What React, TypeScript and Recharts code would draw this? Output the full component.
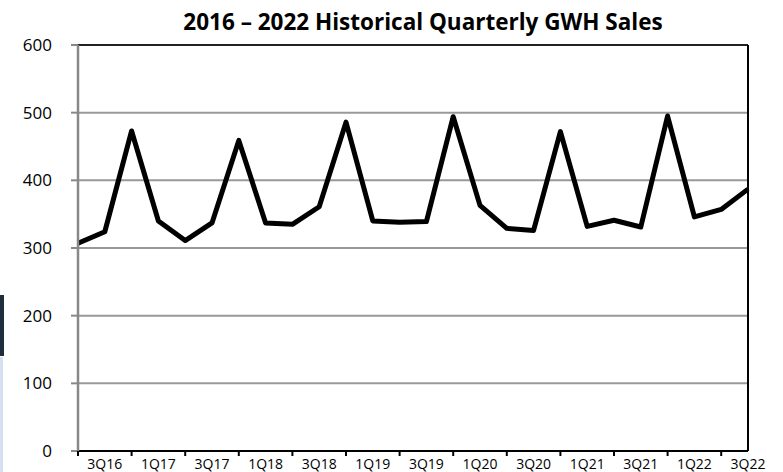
import React from 'react';
import { LineChart, Line, XAxis, YAxis, CartesianGrid, ReferenceLine } from 'recharts';

const quarters = ['2Q16','3Q16','4Q16','1Q17','2Q17','3Q17','4Q17','1Q18','2Q18','3Q18','4Q18','1Q19','2Q19','3Q19','4Q19','1Q20','2Q20','3Q20','4Q20','1Q21','2Q21','3Q21','4Q21','1Q22','2Q22','3Q22'];
const sales = [307,324,473,340,311,337,459,337,335,361,486,340,338,339,494,363,329,326,472,332,341,331,495,346,357,387];
const yTicks = [0, 100, 200, 300, 400, 500, 600];
const title = '2016 \u2013 2022 Historical Quarterly GWH Sales';

const data = quarters.map((q, i) => ({ q, v: sales[i] }));

const XTick = (props: any) => {
  const { x, y, index, payload } = props;
  if (index % 2 === 0) {
    return <line x1={x} y1={y} x2={x} y2={y + 5} stroke="#000" strokeWidth={2} />;
  }
  return (
    <text x={x} y={y + 18} textAnchor="middle" fontSize={14} fontFamily="Open Sans" fill="#000">
      {payload.value}
    </text>
  );
};

export default function App() {
  return (
    <div style={{ position: 'absolute', left: 0, top: 0, width: 783, height: 472, background: '#fff' }}>
      <div style={{ position: 'absolute', left: 0, top: 295, width: 4, height: 61, background: '#1f2d3d' }} />
      <div style={{ position: 'absolute', left: 0, top: 357, width: 3, height: 115, background: '#d6e0ef' }} />
      <div
        style={{
          position: 'absolute',
          left: 423,
          top: 9,
          transform: 'translateX(-50%)',
          whiteSpace: 'nowrap',
          fontFamily: 'Open Sans',
          fontWeight: 700,
          fontSize: 22.5,
          lineHeight: '26px',
          color: '#000',
        }}
      >
        {title}
      </div>
      <LineChart width={783} height={472} data={data} margin={{ top: 45, right: 35, bottom: 0, left: 0 }}>
        <CartesianGrid vertical={false} stroke="#999" strokeWidth={2} />
        <XAxis
          dataKey="q"
          interval={0}
          tick={<XTick />}
          tickLine={false}
          tickSize={0}
          tickMargin={0}
          height={21}
          axisLine={{ stroke: '#000', strokeWidth: 2 }}
        />
        <YAxis
          domain={[0, 600]}
          ticks={yTicks}
          width={78}
          tickSize={7}
          tickMargin={19}
          tick={{ fill: '#000', fontSize: 17, fontFamily: 'Open Sans' }}
          axisLine={{ stroke: '#888', strokeWidth: 2.5 }}
          tickLine={{ stroke: '#888', strokeWidth: 2 }}
        />
        <ReferenceLine y={600} stroke="#222" strokeWidth={2} />
        <ReferenceLine x="3Q22" stroke="#000" strokeWidth={2} />
        <Line
          type="linear"
          dataKey="v"
          stroke="#000"
          strokeWidth={5}
          strokeLinejoin="round"
          dot={false}
          isAnimationActive={false}
        />
      </LineChart>
    </div>
  );
}
